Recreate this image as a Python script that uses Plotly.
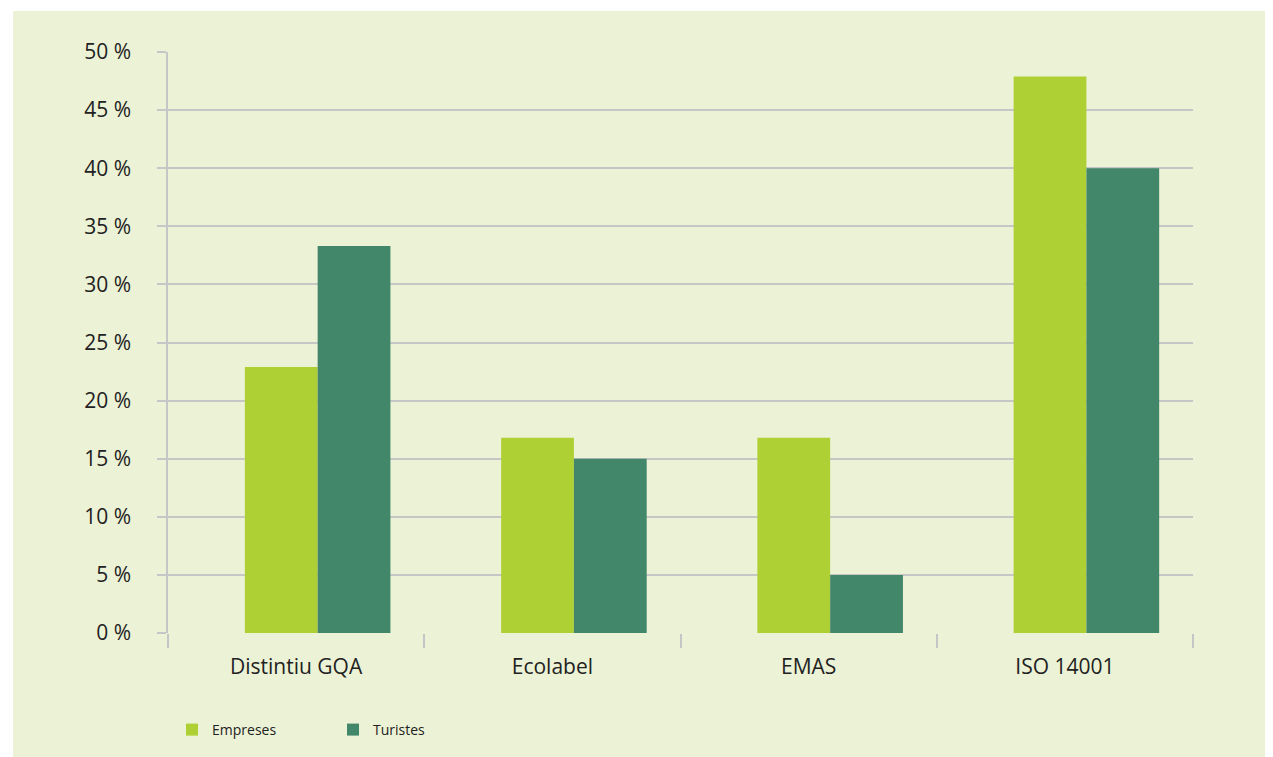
import plotly.graph_objects as go

categories = ["Distintiu GQA", "Ecolabel", "EMAS", "ISO 14001"]
empreses = [22.9, 16.8, 16.8, 47.9]
turistes = [33.3, 15.0, 5.0, 40.0]
y_ticks = [0, 5, 10, 15, 20, 25, 30, 35, 40, 45, 50]

# page offset of the plot div (body margin) is 8px
OFF = 8
W, H = 1273 - OFF, 757 - OFF
ML, MR, MT, MB = 168 - OFF, 80, 52 - OFF, 123
PW, PH = W - ML - MR, H - MT - MB

def px(x):
    return (x - OFF - ML) / PW

def py(y):
    return (H - MB - (y - OFF)) / PH

BG = "#ECF2D6"
GRID = "#C6C6C6"
FONT = "Open Sans"

fig = go.Figure()
fig.add_trace(go.Bar(
    name="Empreses", x=categories, y=empreses,
    marker=dict(color="#AFD035", line=dict(width=0)),
    offset=-0.2, width=0.284,
))
fig.add_trace(go.Bar(
    name="Turistes", x=categories, y=turistes,
    marker=dict(color="#43876A", line=dict(width=0)),
    offset=0.084, width=0.284,
))

fig.update_layout(
    width=W, height=H,
    margin=dict(l=ML, r=MR, t=MT, b=MB, pad=0),
    paper_bgcolor=BG,
    plot_bgcolor=BG,
    barmode="overlay",
    font=dict(family=FONT, color="#222222"),
    showlegend=True,
    legend=dict(
        orientation="h", x=px(172), y=py(730), xanchor="left", yanchor="middle",
        font=dict(size=14, family=FONT, color="#222222"),
        entrywidth=116, entrywidthmode="pixels",
        bgcolor="rgba(0,0,0,0)", traceorder="normal",
    ),
    shapes=[
        dict(type="rect", xref="paper", yref="paper", layer="below",
             x0=px(0), x1=px(13), y0=py(800), y1=py(0),
             fillcolor="white", line=dict(width=0)),
        dict(type="rect", xref="paper", yref="paper", layer="below",
             x0=px(0), x1=px(1300), y0=py(11), y1=py(0),
             fillcolor="white", line=dict(width=0)),
    ],
)

fig.update_xaxes(
    type="category", range=[-0.5, 3.5],
    showgrid=False, zeroline=False,
    showline=False,
    ticks="outside", tickson="boundaries", ticklen=14, tickwidth=1.5, tickcolor=GRID,
    tickfont=dict(size=21, family=FONT, color="#222222"),
    ticklabelstandoff=19,
)
fig.update_yaxes(
    range=[0, 50], tickvals=y_ticks, ticktext=[f"{v} %" for v in y_ticks],
    showgrid=True, gridcolor=GRID, gridwidth=1.5,
    zeroline=False,
    showline=True, linecolor=GRID, linewidth=1.5,
    ticks="outside", ticklen=9, tickwidth=1.5, tickcolor=GRID,
    tickfont=dict(size=21, family=FONT, color="#222222"),
    ticklabelstandoff=22,
)

fig.write_html("out.html")
